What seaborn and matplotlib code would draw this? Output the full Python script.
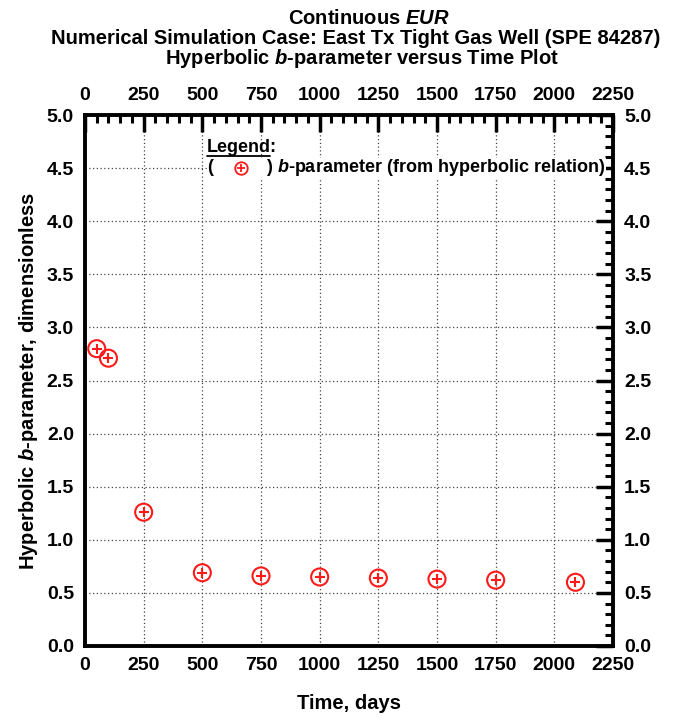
import matplotlib
matplotlib.use("Agg")
import matplotlib.pyplot as plt
import seaborn as sns
import pandas as pd
from matplotlib.ticker import MultipleLocator
from matplotlib.patches import Rectangle

time_days = [50, 100, 250, 500, 750, 1000, 1250, 1500, 1750, 2090]
b_param = [2.80, 2.71, 1.26, 0.69, 0.66, 0.65, 0.64, 0.63, 0.62, 0.60]
x_ticks = [0, 250, 500, 750, 1000, 1250, 1500, 1750, 2000, 2250]
y_ticks = [0.0, 0.5, 1.0, 1.5, 2.0, 2.5, 3.0, 3.5, 4.0, 4.5, 5.0]

sns.set_style("white")
plt.rcParams['font.family'] = ['Liberation Sans', 'DejaVu Sans']
plt.rcParams['font.weight'] = 'bold'
plt.rcParams['text.color'] = 'black'
plt.rcParams['axes.labelcolor'] = 'black'
plt.rcParams['xtick.color'] = 'black'
plt.rcParams['ytick.color'] = 'black'
plt.rcParams['mathtext.fontset'] = 'custom'
plt.rcParams['mathtext.it'] = 'Liberation Sans:italic:bold'
plt.rcParams['mathtext.rm'] = 'Liberation Sans:bold'
plt.rcParams['mathtext.bf'] = 'Liberation Sans:bold'

df = pd.DataFrame({"t": time_days, "b": b_param})

fig = plt.figure(figsize=(6.73, 7.2), dpi=100)
ax = fig.add_axes([85/673, 1-646/720, 528/673, 531/720])

red = "#ff1a1a"
sns.scatterplot(data=df, x="t", y="b", ax=ax, marker="o", s=150,
                facecolor="none", edgecolor=red, linewidth=1.5, zorder=5)
sns.scatterplot(data=df, x="t", y="b", ax=ax, marker="+", s=60,
                color=red, linewidth=1.5, zorder=6)

ax.set_xlim(0, 2250)
ax.set_ylim(0, 5)
ax.set_xticks(x_ticks)
ax.set_yticks(y_ticks)
ax.set_xticklabels([str(v) for v in x_ticks])
ax.set_yticklabels([f"{v:.1f}" for v in y_ticks])
ax.xaxis.set_minor_locator(MultipleLocator(50))
ax.yaxis.set_minor_locator(MultipleLocator(0.1))
ax.grid(True, which="major", linestyle=(0, (1, 2)), color="#444444", linewidth=0.9)
ax.set_axisbelow(True)

for s in ax.spines.values():
    s.set_linewidth(2.8)
    s.set_color("black")
    s.set_visible(True)

ax.tick_params(which="both", direction="in", top=True, right=True,
               labeltop=True, labelright=True, color="black")
ax.tick_params(which="major", length=12, width=2.5, labelsize=14)
ax.tick_params(axis="x", which="major", pad=8)
ax.tick_params(axis="y", which="major", pad=8)
ax.tick_params(which="minor", length=6, width=2.2)
for lab in ax.get_xticklabels() + ax.get_yticklabels():
    lab.set_fontweight("bold")

ax.set_xlabel("Time, days", fontsize=14.5, fontweight="bold", labelpad=14)
ax.set_ylabel("Hyperbolic $b$-parameter, dimensionless", fontsize=14.5,
              fontweight="bold", labelpad=5)

fig.text(0.548, 1-18/720, "Continuous $EUR$", ha="center", va="center",
         fontsize=14.5, fontweight="bold")
fig.text(0.528, 1-38/720, "Numerical Simulation Case: East Tx Tight Gas Well (SPE 84287)",
         ha="center", va="center", fontsize=14.5, fontweight="bold")
fig.text(0.538, 1-58/720, "Hyperbolic $b$-parameter versus Time Plot",
         ha="center", va="center", fontsize=14.5, fontweight="bold")

# legend block
lx = (207-85)/528
ly = 1-(168-115)/531
ax.add_patch(Rectangle((lx, ly-0.018), (606-207)/528, 0.036, transform=ax.transAxes,
                       facecolor="white", edgecolor="none", zorder=3))
ax.text(lx, 1-(148-115)/531, "Legend:", transform=ax.transAxes,
        fontsize=13, fontweight="bold", va="center", ha="left", zorder=4)
ax.plot([lx, lx + 63/528], [1-(156-115)/531]*2, transform=ax.transAxes,
        color="black", linewidth=1.3, clip_on=False, zorder=4)
ax.text(lx, ly, "(", transform=ax.transAxes, fontsize=13, fontweight="bold",
        va="center", ha="left", zorder=4)
ax.text((266-85)/528, ly, ") $b$-parameter (from hyperbolic relation)",
        transform=ax.transAxes, fontsize=13, fontweight="bold", va="center", ha="left",
        zorder=4)
mx = (241-85)/528
ax.plot([mx], [ly], transform=ax.transAxes, marker="o", markersize=9,
        markerfacecolor="none", markeredgecolor=red, markeredgewidth=1.3, zorder=4)
ax.plot([mx], [ly], transform=ax.transAxes, marker="+", markersize=6,
        color=red, markeredgewidth=1.3, zorder=4)

fig.savefig("out.png", dpi=100)
